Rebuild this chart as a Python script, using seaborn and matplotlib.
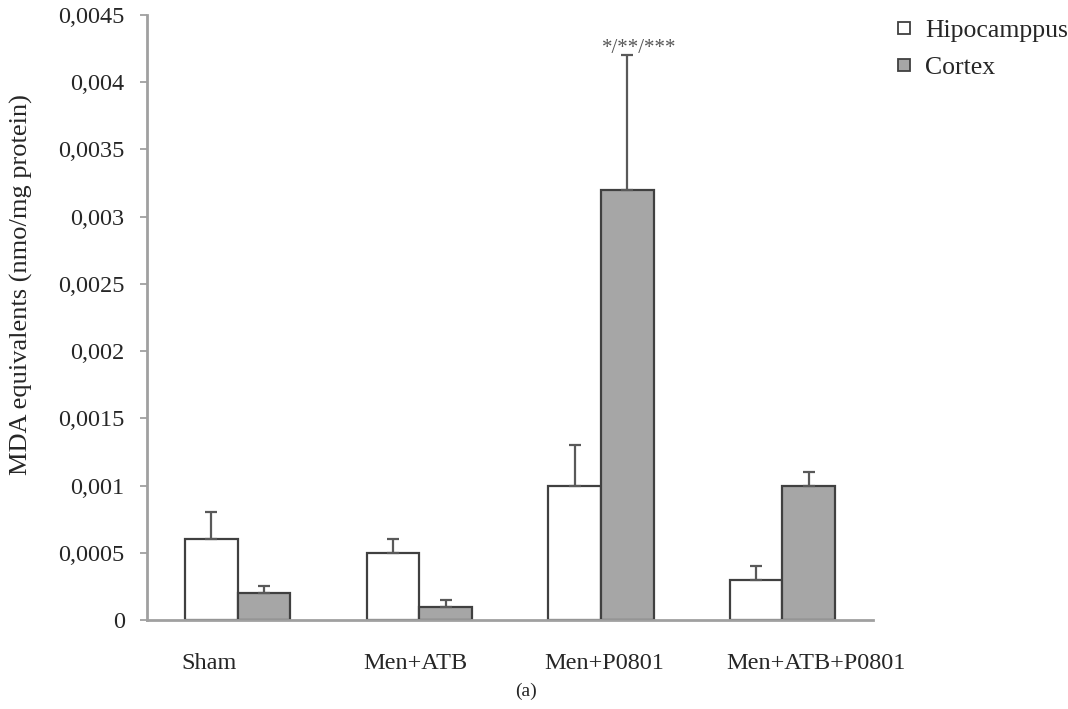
import matplotlib
matplotlib.use("Agg")
import matplotlib.pyplot as plt
from matplotlib.patches import Patch
import numpy as np
import pandas as pd
import seaborn as sns

# data
groups = ["Sham", "Men+ATB", "Men+P0801", "Men+ATB+P0801"]
hipocampo = [0.0006, 0.0005, 0.0010, 0.0003]
cortex = [0.0002, 0.0001, 0.0032, 0.0010]
hipocampo_err = [0.0002, 0.0001, 0.0003, 0.0001]
cortex_err = [0.00005, 0.00005, 0.0010, 0.0001]
series = ["Hipocamppus", "Cortex"]
yticks = [0, 0.0005, 0.001, 0.0015, 0.002, 0.0025, 0.003, 0.0035, 0.004, 0.0045]
ytick_labels = ["0", "0,0005", "0,001", "0,0015", "0,002", "0,0025", "0,003",
                "0,0035", "0,004", "0,0045"]

sns.set_theme(style="white")
plt.rcParams['font.family'] = ['Liberation Serif', 'DejaVu Serif']

df = pd.DataFrame({
    "group": groups * 2,
    "tissue": [series[0]] * 4 + [series[1]] * 4,
    "value": hipocampo + cortex,
    "err": hipocampo_err + cortex_err,
})

fig = plt.figure(figsize=(10.68, 7.09), dpi=100)
ax = fig.add_axes([0.1376, 0.1255, 0.68, 0.8533])

edge = "#404040"
bar_w = 0.58
sns.barplot(data=df, x="group", y="value", hue="tissue", order=groups,
            hue_order=series, palette=["white", "#a6a6a6"], width=bar_w,
            edgecolor=edge, linewidth=1.6, errorbar=None, legend=False, ax=ax)

# upper-only error bars placed on top of each bar
bars = [p for p in ax.patches if p.get_height() > 0]
xs = [p.get_x() + p.get_width() / 2 for p in bars]
hs = [p.get_height() for p in bars]
errs = hipocampo_err + cortex_err
ax.errorbar(xs, hs, yerr=[np.zeros(len(errs)), errs], fmt="none",
            ecolor="#595959", elinewidth=1.6, capsize=4, capthick=1.6)

# significance mark over Men+P0801 cortex
i = 4 + 2
ax.text(xs[i] + 0.066, hs[i] + errs[i] + 0.00005, "*/**/***", ha="center",
        va="center", fontsize=15, color="#555555")

ax.set_xlim(-0.5, 3.5)
ax.set_ylim(0, 0.0045)
ax.set_yticks(yticks)
ax.set_yticklabels(ytick_labels, fontsize=17.5)
ax.tick_params(axis="y", length=5, width=1.3, color="#a0a0a0", left=True, pad=11)
# category labels start at the left edge of each bar pair
ax.set_xticks(np.arange(len(groups)) - bar_w / 2 - 0.02)
ax.set_xticklabels(groups, ha="left", fontsize=17.5)
ax.tick_params(axis="x", length=0, pad=24)
ax.set_xlabel("")
ax.set_ylabel("MDA equivalents (nmo/mg protein)", fontsize=19)
ax.yaxis.set_label_coords(-0.157, 0.554)
for s in ["top", "right"]:
    ax.spines[s].set_visible(False)
for s in ["left", "bottom"]:
    ax.spines[s].set_color("#a0a0a0")
    ax.spines[s].set_linewidth(2)

handles = [Patch(facecolor="white", edgecolor=edge, linewidth=1.3),
           Patch(facecolor="#a6a6a6", edgecolor=edge, linewidth=1.3)]
fig.legend(handles, series, loc="upper left", bbox_to_anchor=(0.8408, 0.972),
           frameon=False, fontsize=18.5, handlelength=0.45, handleheight=0.35,
           handletextpad=0.6, labelspacing=0.6, borderpad=0, borderaxespad=0)

fig.text(0.4925, 0.025, "(a)", ha="center", va="center", fontsize=14)

fig.savefig("out.png", dpi=100)
